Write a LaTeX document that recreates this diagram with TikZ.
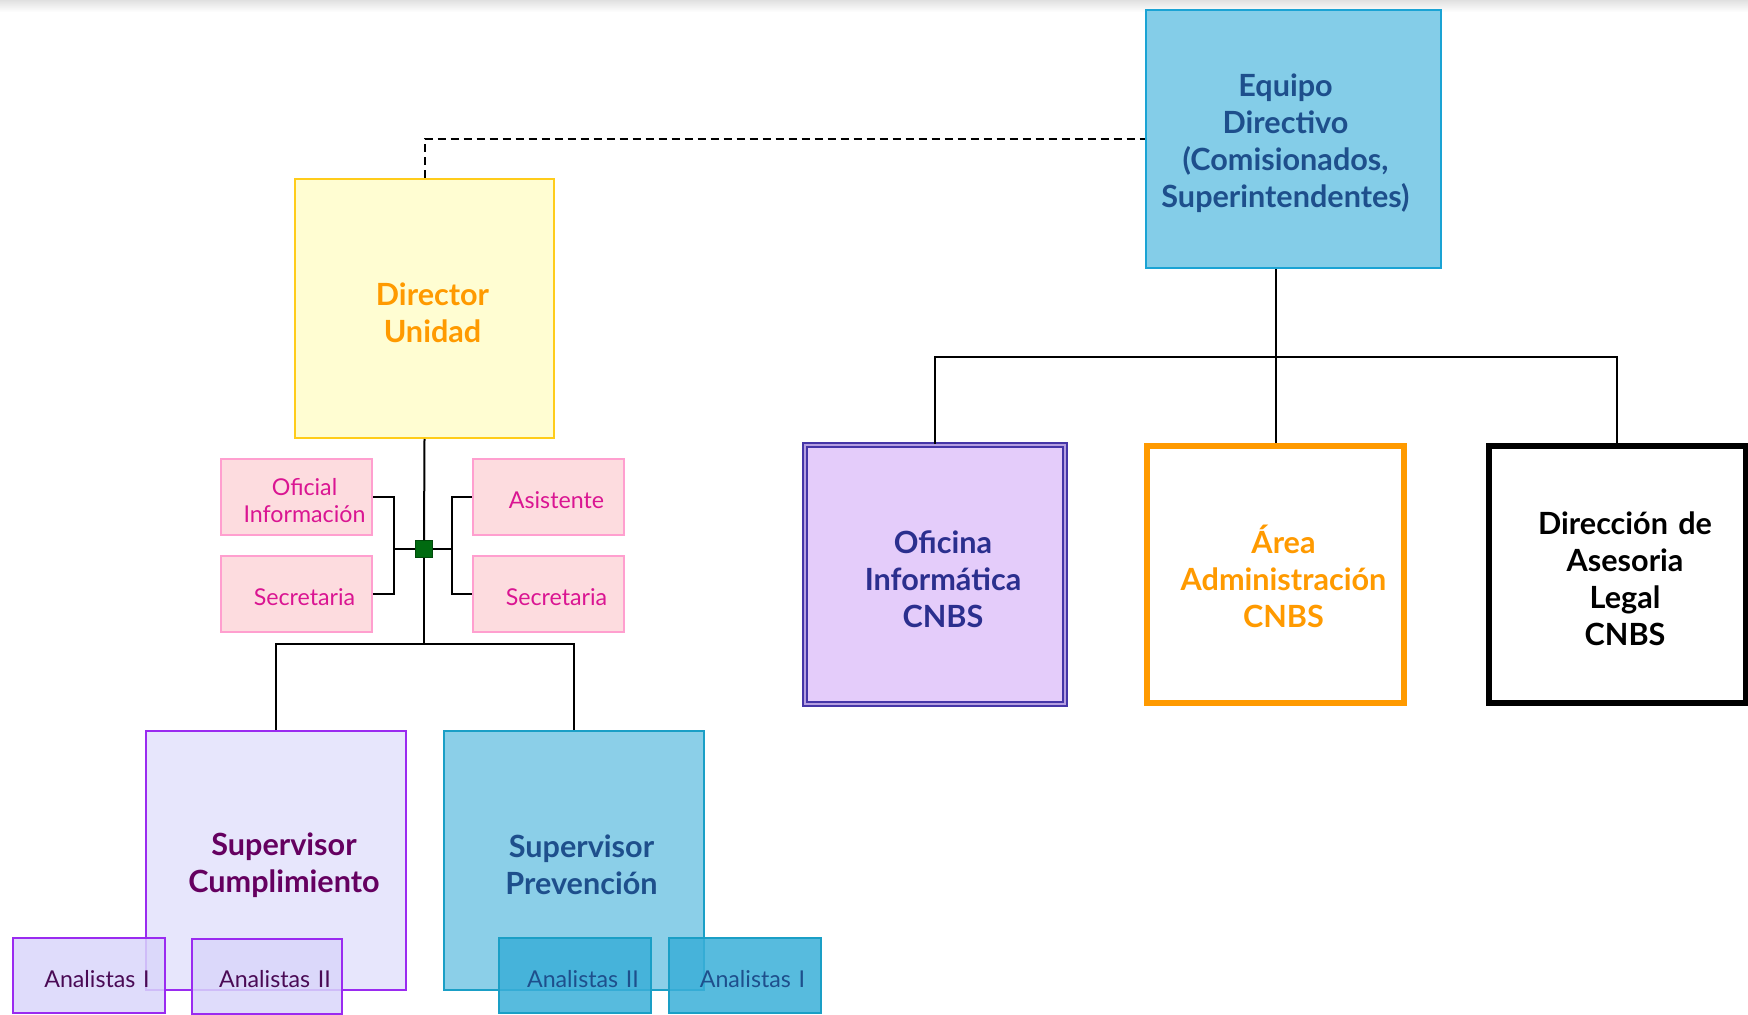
\documentclass[tikz,border=0pt]{standalone}
\usepackage{fontspec}
\setmainfont{Lato}
\usetikzlibrary{positioning}

\definecolor{eqfill}{HTML}{84CDE8}
\definecolor{eqline}{HTML}{1AA3D4}
\definecolor{eqtxt}{HTML}{1E4F8C}
\definecolor{dirfill}{HTML}{FFFDD2}
\definecolor{dirline}{HTML}{FFCC1A}
\definecolor{orangetxt}{HTML}{FF9A00}
\definecolor{pinkfill}{HTML}{FDDCDF}
\definecolor{pinkline}{HTML}{FF9FCF}
\definecolor{pinktxt}{HTML}{DA1592}
\definecolor{cumfill}{HTML}{E7E6FC}
\definecolor{cumline}{HTML}{9A2BF0}
\definecolor{cumtxt}{HTML}{650060}
\definecolor{analpfill}{HTML}{D9D6FA}
\definecolor{analptxt}{HTML}{4A0A55}
\definecolor{analbfill}{HTML}{3AAFD8}
\definecolor{prevfill}{HTML}{8BCFE8}
\definecolor{prevline}{HTML}{1A9FC6}
\definecolor{offill}{HTML}{E4CCFA}
\definecolor{ofline}{HTML}{4636A8}
\definecolor{oftxt}{HTML}{2B2F8E}
\definecolor{hubgreen}{HTML}{006A10}

\tikzset{
	box/.style={draw, rectangle, align=center, inner sep=0pt},
	% text sits a little right of and below the box centre
	txtshift/.style 2 args={text width=#1, execute at begin node={\advance\leftskip by 8pt\rule{0pt}{#2}}},
	bigtxt/.style={font=\fontsize{15.3}{18.5}\selectfont\bfseries},
	smalltxt/.style={font=\fontsize{11.6}{13.8}\selectfont},
	bigbox/.style={box, bigtxt, txtshift={120pt}{16pt}, line width=1pt, minimum width=130pt, minimum height=129.5pt},
	pinkbox/.style={box, smalltxt, txtshift={72pt}{12pt}, draw=pinkline, fill=pinkfill, text=pinktxt, line width=1pt, minimum width=75.5pt, minimum height=38pt},
	analbox/.style={box, smalltxt, txtshift={72pt}{12pt}, line width=1pt, fill opacity=0.85, text opacity=1, minimum width=76pt, minimum height=37.5pt},
	unitbox/.style={box, bigtxt, txtshift={120pt}{16pt}, fill=white, line width=3pt, minimum width=128.5pt, minimum height=128.5pt},
	link/.style={draw=black, line width=1pt},
}

\begin{document}
\begin{tikzpicture}[x=0.5pt, y=-0.5pt]
	\useasboundingbox (0,0) rectangle (1748,1015);
	\shade[top color=black!12, bottom color=white] (0,0) rectangle (1748,12);
	
	%%%%% TOP %%%%%
	\node[box, bigtxt, line width=1pt, fill=eqfill, draw=eqline, text=eqtxt, minimum width=147.5pt, minimum height=129pt,
		text width=138pt, execute at begin node={\advance\rightskip by 8pt\rule{0pt}{16pt}}] (equipo) at (1293.5,139) {Equipo\\Directivo\\(Comisionados,\\Superintendentes)};
	\node[bigbox, fill=dirfill, draw=dirline, text=orangetxt, minimum width=129.5pt] (director) at (424.5,308.5) {Director\\Unidad};
	
	%%%%% STAFF %%%%%
	\node[pinkbox] (oficial) at (296.5,497) {Oficial\\Información};
	\node[pinkbox] (secl) at (296.5,594) {Secretaria};
	\node[pinkbox] (asistente) at (548.5,497) {Asistente};
	\node[pinkbox] (secr) at (548.5,594) {Secretaria};
	\node[draw=hubgreen!70!black, fill=hubgreen, minimum size=8.5pt, inner sep=0pt] (hub) at (424,549) {};
	
	%%%%% SUPERVISORES %%%%%
	\node[bigbox, fill=cumfill, draw=cumline, text=cumtxt] (cumplimiento) at (276,860.5) {Supervisor\\Cumplimiento};
	\node[bigbox, fill=prevfill, draw=prevline, text=eqtxt] (prevencion) at (573.5,860.5) {Supervisor\\Prevención};
	
	\node[analbox, fill=analpfill, draw=cumline, text=analptxt] (analpi) at (89,975.5) {Analistas I};
	\node[analbox, fill=analpfill, draw=cumline, text=analptxt, minimum width=75pt] (analpii) at (267,976) {Analistas II};
	\node[analbox, fill=analbfill, draw=prevline, text=eqtxt] (analbii) at (575,975.5) {Analistas II};
	\node[analbox, fill=analbfill, draw=prevline, text=eqtxt] (analbi) at (744.5,975.5) {Analistas I};
	
	%%%%% UNIDADES CNBS %%%%%
	\node[bigbox, fill=offill, draw=ofline, double=offill!70!ofline, double distance=1pt, line width=0.8pt, text=oftxt, minimum width=130pt, minimum height=129.5pt] (oficina) at (935,574.5) {Oficina\\Informática\\CNBS};
	\node[unitbox, draw=orangetxt, text=orangetxt] (area) at (1275.5,574.5) {Área\\Administración\\CNBS};
	\node[unitbox, draw=black, text=black] (direccion) at (1617,574.5) {Dirección de\\Asesoria\\Legal\\CNBS};
	
	%%%%% CONNECTORS %%%%%
	\coordinate (bar) at (424,644);
	\coordinate (lbr) at (394,549);
	\coordinate (rbr) at (452,549);
	\coordinate (rbar) at (1275.5,357);
	
	\draw[link, dashed, dash pattern=on 4pt off 2.5pt] (director.north) |- (equipo.west);
	\draw[link] (director.south) -- (hub.north);
	\draw[link] (hub.south) -- (bar);
	\draw[link] (oficial.east) -| (lbr) |- (secl.east);
	\draw[link] (lbr) -- (hub.west);
	\draw[link] (asistente.west) -| (rbr) |- (secr.west);
	\draw[link] (rbr) -- (hub.east);
	\draw[link] (cumplimiento.north) |- (bar) -| (prevencion.north);
	
	\draw[link] (equipo.south -| area.north) -- (area.north);
	\draw[link] (oficina.north) |- (rbar) -| (direccion.north);
\end{tikzpicture}
\end{document}
